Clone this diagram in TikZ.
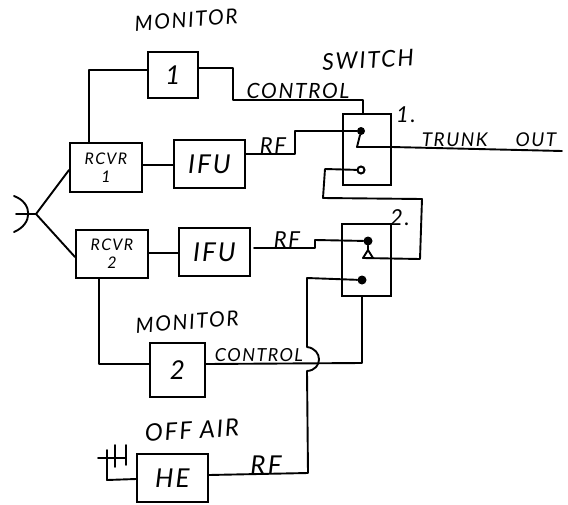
\documentclass[tikz,border=0pt]{standalone}
\usepackage{fontspec}
\setmainfont[LetterSpace=8]{Lato}
\newcommand{\hw}[1]{\fontsize{#1}{#1}\selectfont\itshape}
\tikzset{
 wire/.style={line width=1.9pt,line cap=round,line join=round},
 blk/.style={draw,line width=1.9pt,inner sep=0pt,anchor=north west,align=center,font=\hw{26}},
 lbl/.style={inner sep=0pt,font=\hw{22}},
 dotf/.style={circle,fill=black,inner sep=0pt,minimum size=8pt},
 doth/.style={circle,draw,fill=white,line width=2pt,inner sep=0pt,minimum size=7pt}
}
\begin{document}
\begin{tikzpicture}[x=1pt,y=-1pt]
\useasboundingbox (0,0) rectangle (568,504);
\node[blk,minimum width=50pt,minimum height=46pt] (mon1) at (147,51) {1};
\node[blk,minimum width=72pt,minimum height=49pt,font=\hw{16}] (rc1) at (69,142) {RCVR\\[2pt]1};
\node[blk,minimum width=71pt,minimum height=48pt] (if1) at (173,139) {IFU};
\node[blk,minimum width=72pt,minimum height=48pt,font=\hw{16}] (rc2) at (75,229) {RCVR\\[2pt]2};
\node[blk,minimum width=71pt,minimum height=48pt] (if2) at (178,227) {IFU};
\node[blk,minimum width=48pt,minimum height=71pt] (sw1) at (342,113) {};
\node[blk,minimum width=49pt,minimum height=72pt] (sw2) at (341,223) {};
\node[blk,minimum width=55pt,minimum height=54pt] (mon2) at (149,342) {2};
\node[blk,minimum width=71pt,minimum height=48pt] (he) at (136,453) {HE};
\node[dotf] (a1) at (361,131) {};
\node[doth] (b1) at (361,170) {};
\node[dotf,minimum size=9pt] (a2) at (368,241) {};
\node[dotf,minimum size=9pt] (b2) at (362,280) {};
\coordinate (p1) at (357,147);
\coordinate (p2) at (363,258);
\coordinate (ant) at (36,214);
\coordinate (out) at (562,151);
\draw[wire] (mon1.west |- 0,70) -- (89,70) -- (rc1.north -| 89,0);
\draw[wire] (mon1.east |- 0,68) -- (233,68) -- (233,100) -- (363,100) -- (sw1.north -| 363,0);
\draw[wire] (rc1.east |- 0,165) -- (if1.west |- 0,165);
\draw[wire] (rc2.east |- 0,253) -- (if2.west |- 0,253);
\draw[wire] (if1.east |- 0,154) -- (295,154) -- (295,131) -- (a1);
\draw[wire] (254,248) -- (315,248) -- (315,240) -- (a2);
\draw[wire] (a1) -- (p1) -- (sw1.east |- p1) -- (out);
\draw[wire] (b1) -- (325,169) -- (323,198) -- (422,199) -- (420,259) -- (p2) -- (368,250) -- (373,258);
\draw[wire] (a2) -- (368,250);
\draw[wire] (b2) -- (307,278) -- (307,347) .. controls (323,349) and (323,370) .. (307,371) -- (308,473) -- (he.east |- 0,475);
\draw[wire] (mon2.east |- 0,364) -- (362,363) -- (sw2.south -| 362,0);
\draw[wire] (rc2.south -| 99,0) -- (99,364) -- (mon2.west |- 0,364);
\draw[wire] (16,214) -- (ant);
\draw[wire] (14,196) .. controls (33,203) and (33,224) .. (14,232);
\draw[wire] (rc1.west |- 0,170) -- (ant) -- (rc2.west |- 0,257);
\draw[wire] (98,458) -- (126,458);
\draw[wire] (115,445) -- (115,467);
\draw[wire] (126,445) -- (126,465);
\draw[wire] (107,450) -- (107,480) -- (he.west |- 0,479);
\node[lbl,rotate=4,font=\hw{21}] (t1) at (186,20) {MONITOR};
\node[lbl,rotate=3,font=\hw{23}] (t2) at (368,60) {SWITCH};
\node[lbl,font=\hw{21}] (t3) at (298,91) {CONTROL};
\node[lbl] (t4) at (273,146) {RF};
\node[lbl] (t5) at (287,240) {RF};
\node[lbl] (t6) at (406,115) {1.};
\node[lbl] (t7) at (400,218) {2.};
\node[lbl,font=\hw{19}] (t8) at (489,140) {TRUNK\hspace{28pt}OUT};
\node[lbl,rotate=4,font=\hw{21}] (t9) at (187,322) {MONITOR};
\node[lbl,font=\hw{18}] (t10) at (259,355) {CONTROL};
\node[lbl,rotate=3,font=\hw{24}] (t11) at (192,430) {OFF AIR};
\node[lbl,font=\hw{26}] (t12) at (266,465) {RF};
\end{tikzpicture}
\end{document}
